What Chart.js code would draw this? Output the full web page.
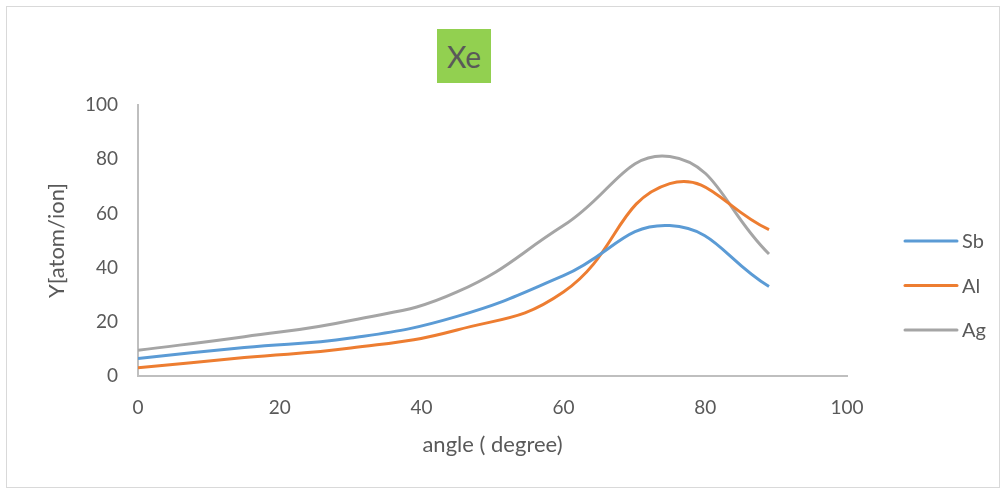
<!DOCTYPE html>
<html>
<head>
<meta charset="UTF-8">
<script src="https://cdn.jsdelivr.net/npm/chart.js"></script>
<style>
    html, body {
        margin: 0;
        padding: 0;
        background: #ffffff;
        width: 1007px;
        height: 492px;
        overflow: hidden;
        font-family: 'Lato', sans-serif;
    }
    .frame {
        position: absolute;
        left: 6px;
        top: 6px;
        width: 994px;
        height: 482px;
        border: 1px solid #d9d9d9;
        box-sizing: border-box;
    }
    .chart-title {
        position: absolute;
        left: 437px;
        top: 29px;
        width: 54px;
        height: 54px;
        background: #92d050;
        color: #595959;
        font-size: 30px;
        line-height: 54px;
        text-align: center;
    }
    #chart {
        position: absolute;
        left: 0;
        top: 0;
    }
</style>
</head>
<body>
<div class="frame"></div>
<canvas id="chart" width="1007" height="492"></canvas>
<div class="chart-title">Xe</div>

<script>
    // values
    const angles = [0, 15, 30, 45, 60, 75, 89];
    const sbYield = [6.5, 10.5, 14, 22, 37, 55.5, 33];
    const alYield = [3, 6.8, 10.3, 17, 31, 71, 54];
    const agYield = [9.5, 14.5, 20.5, 31, 55.5, 81, 45];

    const seriesNames = ['Sb', 'Al', 'Ag'];
    const seriesColors = ['#5b9bd5', '#ed7d31', '#a5a5a5'];
    const seriesValues = [sbYield, alYield, agYield];

    const textColor = '#595959';
    const axisColor = '#bfbfbf';

    const datasets = seriesNames.map((name, i) => ({
        label: name,
        data: angles.map((a, j) => ({ x: a, y: seriesValues[i][j] })),
        borderColor: seriesColors[i],
        backgroundColor: seriesColors[i],
        borderWidth: 3,
        pointRadius: 0,
        fill: false,
        tension: 0.45
    }));

    // legend on the right, drawn by hand so it sits where Excel put it
    const sideLegend = {
        id: 'sideLegend',
        afterDraw(chart) {
            const ctx = chart.ctx;
            ctx.save();
            ctx.font = '20px Lato';
            ctx.textBaseline = 'middle';
            ctx.lineCap = 'round';
            chart.data.datasets.forEach((ds, i) => {
                const y = 241 + i * 44.5;
                ctx.strokeStyle = ds.borderColor;
                ctx.lineWidth = 3;
                ctx.beginPath();
                ctx.moveTo(905, y);
                ctx.lineTo(957, y);
                ctx.stroke();
                ctx.fillStyle = textColor;
                ctx.fillText(ds.label, 962, y + 1);
            });
            ctx.restore();
        }
    };

    new Chart(document.getElementById('chart'), {
        type: 'line',
        data: { datasets: datasets },
        options: {
            animation: false,
            responsive: false,
            layout: { padding: { left: 0, top: 105, right: 160, bottom: 0 } },
            plugins: {
                legend: { display: false },
                tooltip: { enabled: false }
            },
            scales: {
                x: {
                    type: 'linear',
                    min: 0,
                    max: 100,
                    ticks: { stepSize: 20, color: textColor, padding: 20, font: { family: 'Lato', size: 19 } },
                    grid: { display: false, drawTicks: false },
                    border: { color: axisColor, width: 2 },
                    title: {
                        display: true,
                        text: 'angle ( degree)',
                        color: textColor,
                        font: { family: 'Lato', size: 22 },
                        padding: { top: 0, bottom: 34 }
                    },
                    afterFit(scale) { scale.height = 116; }
                },
                y: {
                    min: 0,
                    max: 100,
                    ticks: { stepSize: 20, color: textColor, padding: 20, font: { family: 'Lato', size: 19 } },
                    grid: { display: false, drawTicks: false },
                    border: { color: axisColor, width: 2 },
                    title: {
                        display: true,
                        text: 'Y[atom/ion]',
                        color: textColor,
                        font: { family: 'Lato', size: 22 },
                        padding: { top: 44, bottom: 0 }
                    },
                    afterFit(scale) { scale.width = 138; }
                }
            }
        },
        plugins: [sideLegend]
    });
</script>
</body>
</html>
